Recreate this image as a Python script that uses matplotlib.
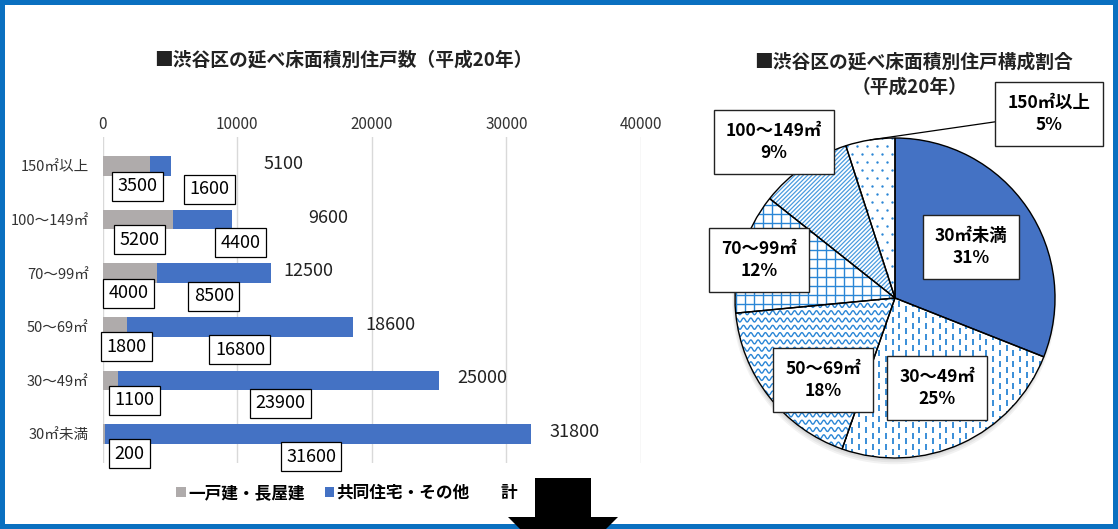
import numpy as np
import matplotlib.pyplot as plt
from matplotlib.patches import Rectangle, Polygon, Circle, Wedge, Patch
from matplotlib.collections import LineCollection

plt.rcParams['font.family'] = ['Noto Sans CJK JP', 'DejaVu Sans']

# ---------------------------------------------------------------- data
categories = ['150㎡以上', '100～149㎡', '70～99㎡', '50～69㎡', '30～49㎡', '30㎡未満']
detached = [3500, 5200, 4000, 1800, 1100, 200]        # 一戸建・長屋建
apartment = [1600, 4400, 8500, 16800, 23900, 31600]   # 共同住宅・その他
total = [5100, 9600, 12500, 18600, 25000, 31800]      # 計

pie_labels = ['30㎡未満', '30～49㎡', '50～69㎡', '70～99㎡', '100～149㎡', '150㎡以上']
pie_values = total[::-1]
pie_pct = [31, 25, 18, 12, 9, 5]

# ---------------------------------------------------------------- styles
W, H = 1118, 529
GRAY = '#AFABAB'
BLUE = '#4472C4'
HATCH = '#2A86D6'
FRAME = '#0A70C0'

# label nudges (pixels), picked by eye from the reference
gray_dx = [35, 37, 26, 24, 32, 27]
blue_dx = [49, 38, 0, 0, 2, -7]
total_dx = [92, 76, 12, 12, 18, 19]
pie_label_pos = [(0.475, 0.319), (0.2625, -0.5625), (-0.45, -0.5125),
                 (-0.85, 0.2375), (-0.756, 0.975), (0.9625, 1.15)]


def fx(px):
    return px / W


def fy(py):
    return 1 - py / H


fig = plt.figure(figsize=(W / 100, H / 100), dpi=100)

# ================================================================ bar chart
ax = fig.add_axes([fx(102.7), fy(463), (641 - 102.7) / W, (463 - 137) / H])
y = np.arange(len(categories))
ax.barh(y, detached, height=0.365, color=GRAY)
ax.barh(y, apartment, left=detached, height=0.365, color=BLUE)
ax.set_xlim(0, 40000)
ax.set_ylim(5.545, -0.545)
ax.xaxis.tick_top()
ax.set_xticks([0, 10000, 20000, 30000, 40000])
ax.set_yticks(y)
ax.set_yticklabels(categories)
ax.tick_params(axis='x', length=0, pad=3, labelsize=11, colors='#333333')
ax.tick_params(axis='y', length=0, pad=10, labelsize=10.5, colors='#333333')
ax.grid(axis='x', color='#D9D9D9', lw=1)
ax.set_axisbelow(True)
for s in ax.spines.values():
    s.set_visible(False)

box = dict(boxstyle='square,pad=0.3', fc='white', ec='black', lw=0.9)
for i in range(len(categories)):
    ax.annotate(str(detached[i]), xy=(0, i), xytext=(gray_dx[i], -20),
                textcoords='offset pixels', ha='center', va='center',
                fontsize=13, bbox=box, annotation_clip=False)
    mid = detached[i] + apartment[i] / 2
    ax.annotate(str(apartment[i]), xy=(mid, i), xytext=(blue_dx[i], -23),
                textcoords='offset pixels', ha='center', va='center',
                fontsize=13, bbox=box, annotation_clip=False)
    ax.annotate(str(total[i]), xy=(total[i], i), xytext=(total_dx[i], 2),
                textcoords='offset pixels', ha='left', va='center',
                fontsize=13, color='#222222', annotation_clip=False)

fig.text(fx(343), fy(60), '■渋谷区の延べ床面積別住戸数（平成20年）',
         ha='center', va='center', fontsize=13.5, weight='bold', color='#222222')

handles = [Patch(fc=GRAY), Patch(fc=BLUE), Patch(fc='none', ec='none')]
fig.legend(handles, ['一戸建・長屋建', '共同住宅・その他', '計'], loc='center',
           bbox_to_anchor=(fx(347), fy(493)), ncol=3, frameon=False,
           handlelength=0.55, handleheight=0.55, handletextpad=0.15,
           columnspacing=1.2, prop=dict(weight='bold', size=12))

# ================================================================ pie chart
pax = fig.add_axes([fx(735), fy(458), 320 / W, 320 / H])
for k, a in enumerate([0.05, 0.05, 0.05]):
    pax.add_patch(Circle((-0.005, -0.015 - 0.006 * k), 1.0 + 0.006 * k,
                         fc='black', alpha=a, ec='none', zorder=0, clip_on=False))
wedges, _ = pax.pie(pie_values, startangle=90, counterclock=False, radius=1,
                    colors=[BLUE] + ['white'] * 5,
                    wedgeprops=dict(edgecolor='none', zorder=1))
pax.set_xlim(-1, 1)
pax.set_ylim(-1, 1)
pax.set_aspect('equal')
for w in wedges:
    w.set_clip_on(False)

u = 1 / 160.0  # one pixel in pie units


def vdash():
    segs = []
    sx, per, ln = 6.7 * u, 11 * u, 6 * u
    for j, x in enumerate(np.arange(-1.02, 1.02, sx)):
        off = (j % 2) * per / 2
        for y0 in np.arange(-1.05 + off, 1.05, per):
            segs.append([(x, y0), (x, y0 + ln)])
    return segs, 1.3, HATCH


def wave():
    segs = []
    xs = np.arange(-1.05, 1.05, 0.5 * u)
    for y0 in np.arange(-1.05, 1.05, 7.3 * u):
        segs.append(np.column_stack([xs, y0 + 2.0 * u * np.sin(2 * np.pi * xs / (7.3 * u))]))
    return segs, 1.0, HATCH


def grid():
    segs = []
    for v in np.arange(-1.05, 1.05, 9 * u):
        segs.append([(v, -1.05), (v, 1.05)])
        segs.append([(-1.05, v), (1.05, v)])
    return segs, 1.0, HATCH


def diag():
    segs = []
    step = 4.3 * u
    for c in np.arange(-2.2, 2.2, step):
        segs.append([(c - 1.1, -1.1), (c + 1.1, 1.1)])
    return segs, 0.9, '#4A9BDF'


patterns = [None, vdash, wave, grid, diag]
for w, fn in zip(wedges, patterns):
    if fn is None:
        continue
    segs, lw, col = fn()
    lc = LineCollection(segs, colors=col, linewidths=lw, zorder=2)
    pax.add_collection(lc)
    lc.set_clip_path(w)

# dotted pattern for the last slice
dx_, dy_ = 10 * u, 8 * u
pts = []
for j, yy in enumerate(np.arange(-1.05, 1.05, dy_)):
    for xx in np.arange(-1.05 + (j % 2) * dx_ / 2, 1.05, dx_):
        pts.append((xx, yy))
pts = np.array(pts)
sc = pax.scatter(pts[:, 0], pts[:, 1], s=3, color=HATCH, lw=0, zorder=2)
sc.set_clip_path(wedges[5])

for w in wedges:
    pax.add_patch(Wedge(w.center, w.r, w.theta1, w.theta2, fill=False,
                        ec='black', lw=1, zorder=3, clip_on=False))

pbox = dict(boxstyle='square,pad=0.7', fc='white', ec='#222222', lw=1)
for i, (lab, pct) in enumerate(zip(pie_labels, pie_pct)):
    txt = f'{lab}\n{pct}%'
    if i == 5:
        w = wedges[i]
        th = np.deg2rad((w.theta1 + w.theta2) / 2)
        pax.annotate(txt, xy=(np.cos(th), np.sin(th)), xytext=pie_label_pos[i],
                     ha='center', va='center', fontsize=12.5, weight='bold',
                     linespacing=1.3, bbox=pbox, zorder=5, annotation_clip=False,
                     arrowprops=dict(arrowstyle='-', color='black', lw=0.9,
                                     shrinkA=0, shrinkB=0))
    else:
        pax.text(*pie_label_pos[i], txt, ha='center', va='center', fontsize=12.5,
                 weight='bold', linespacing=1.3, bbox=pbox, zorder=5)

fig.text(fx(913), fy(62), '■渋谷区の延べ床面積別住戸構成割合', ha='center',
         va='center', fontsize=13.5, weight='bold', color='#222222')
fig.text(fx(910), fy(87), '（平成20年）', ha='center', va='center',
         fontsize=13.5, weight='bold', color='#222222')

# ================================================================ frame + arrow
fig.patches.append(Rectangle((0, 0), 1, 1, transform=fig.transFigure, fill=False,
                             ec=FRAME, lw=7.2, zorder=10))
arrow_px = [(535, 478), (591, 478), (591, 517), (618, 517), (563, 572),
            (508, 517), (535, 517)]
fig.patches.append(Polygon([(fx(a), fy(b)) for a, b in arrow_px], closed=True,
                           transform=fig.transFigure, fc='black', ec='none',
                           zorder=11))

fig.savefig('out.png', dpi=100)
